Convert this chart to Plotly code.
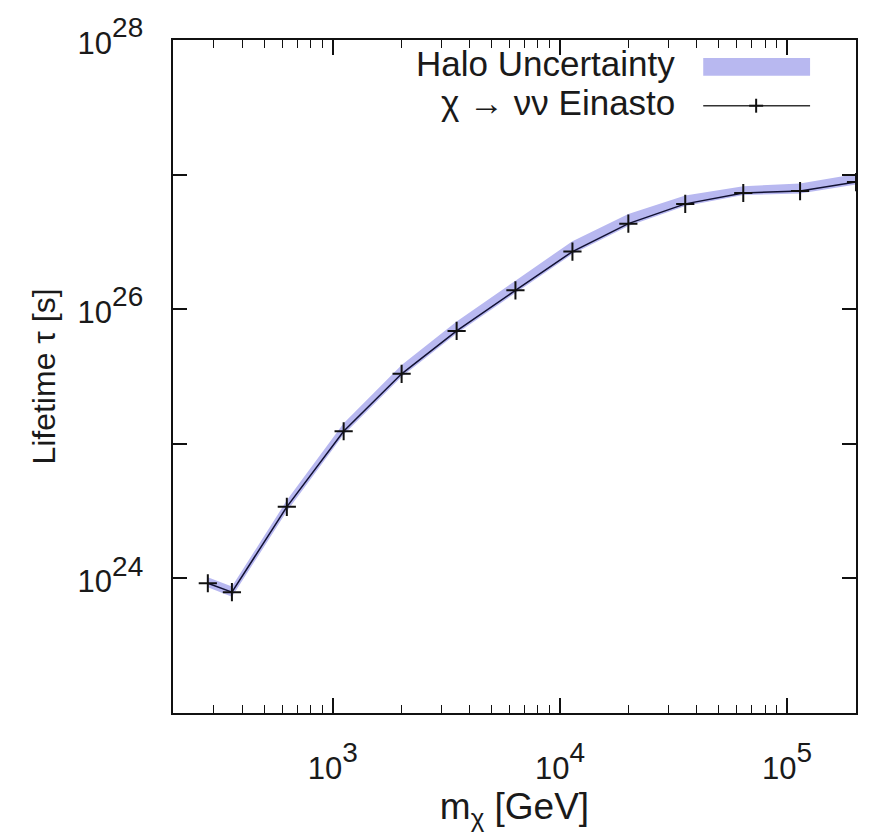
import plotly.graph_objects as go

# Data
mass_gev = [282, 360, 628, 1117, 2010, 3510, 6370, 11350, 20000, 35600, 64100, 114000, 201000]
lifetime_s = [9.2e23, 7.9e23, 3.4e24, 1.24e25, 3.31e25, 6.9e25, 1.38e26, 2.68e26, 4.32e26, 6.06e26, 7.3e26, 7.55e26, 8.8e26]
halo_upper = [1.02e24, 8.7e23, 3.8e24, 1.42e25, 3.85e25, 8.1e25, 1.63e26, 3.2e26, 5.1e26, 7.0e26, 8.2e26, 8.6e26, 1.01e27]
halo_lower = [8.6e23, 7.3e23, 3.15e24, 1.17e25, 3.15e25, 6.6e25, 1.32e26, 2.57e26, 4.15e26, 5.85e26, 7.05e26, 7.25e26, 8.45e26]

y_tickvals = [1e23, 1e24, 1e25, 1e26, 1e27, 1e28]
y_exponents = [None, 24, None, 26, None, 28]
x_tickvals = [1e3, 1e4, 1e5]
x_exponents = [3, 4, 5]

band_color = "rgb(184,184,240)"
font_family = "Liberation Sans, Arial, sans-serif"
text_color = "#1a1a1a"


def power_label(exp):
    if exp is None:
        return ""
    return f"<span style='font-size:31px'>10</span><sup>{exp}</sup>"


fig = go.Figure()
fig.add_trace(go.Scatter(x=mass_gev, y=halo_lower, mode="lines", line=dict(width=0),
                         showlegend=False, hoverinfo="skip"))
fig.add_trace(go.Scatter(x=mass_gev, y=halo_upper, mode="lines", line=dict(width=0),
                         fill="tonexty", fillcolor=band_color, name="Halo Uncertainty",
                         showlegend=False, hoverinfo="skip"))
fig.add_trace(go.Scatter(x=mass_gev, y=lifetime_s, mode="lines+markers",
                         line=dict(color="#111133", width=1.5),
                         marker=dict(symbol="cross-thin", size=13, line=dict(color="#111111", width=2)),
                         name="χ → νν Einasto", showlegend=False))

L, R, T, B = 173, 13, 37, 127
W, H = 870, 840
pw, ph = W - L - R, H - T - B


def px(x):
    return (x - L) / pw


def py(y):
    return (H - B - y) / ph


axis_common = dict(showgrid=False, zeroline=False, showline=True, linecolor="#111111", linewidth=1.5,
                   mirror="allticks", ticks="inside", tickcolor="#111111", tickwidth=1.5,
                   tickfont=dict(family=font_family, size=40, color=text_color))

fig.update_xaxes(type="log", range=[2.297, 5.303], tickvals=x_tickvals,
                 ticktext=[power_label(e) for e in x_exponents],
                 ticklen=15, ticklabelstandoff=16,
                 minor=dict(ticks="inside", ticklen=8, tickwidth=1.2, tickcolor="#111111", dtick="D1", showgrid=False),
                 title=dict(text="m<sub>χ</sub> [GeV]", font=dict(family=font_family, size=37, color=text_color), standoff=6),
                 **axis_common)
fig.update_yaxes(type="log", range=[23, 28], tickvals=y_tickvals,
                 ticktext=[power_label(e) for e in y_exponents],
                 ticklen=14, ticklabelstandoff=20,
                 title=dict(text="Lifetime τ [s]", font=dict(family=font_family, size=32, color=text_color), standoff=12),
                 **axis_common)

# custom legend (text right-aligned, sample on the right as in the reference)
fig.add_annotation(xref="paper", yref="paper", x=px(678), y=py(61), xanchor="right", yanchor="middle",
                   text="Halo Uncertainty", showarrow=False,
                   font=dict(family=font_family, size=35, color=text_color))
fig.add_annotation(xref="paper", yref="paper", x=px(678), y=py(100), xanchor="right", yanchor="middle",
                   text="χ → νν Einasto", showarrow=False,
                   font=dict(family=font_family, size=35, color=text_color))
fig.add_shape(type="rect", xref="paper", yref="paper", x0=px(704), x1=px(811), y0=py(73), y1=py(55),
              fillcolor=band_color, line=dict(width=0))
fig.add_shape(type="line", xref="paper", yref="paper", x0=px(704), x1=px(811), y0=py(103), y1=py(103),
              line=dict(color="#333333", width=1.5))
fig.add_shape(type="line", xref="paper", yref="paper", x0=px(757), x1=px(757), y0=py(96), y1=py(110),
              line=dict(color="#111111", width=2))
fig.add_shape(type="line", xref="paper", yref="paper", x0=px(750), x1=px(764), y0=py(103), y1=py(103),
              line=dict(color="#111111", width=2))

fig.update_layout(width=W, height=H, margin=dict(l=L, r=R, t=T, b=B),
                  plot_bgcolor="white", paper_bgcolor="white", showlegend=False,
                  font=dict(family=font_family, color=text_color))

fig.write_html("out.html")
